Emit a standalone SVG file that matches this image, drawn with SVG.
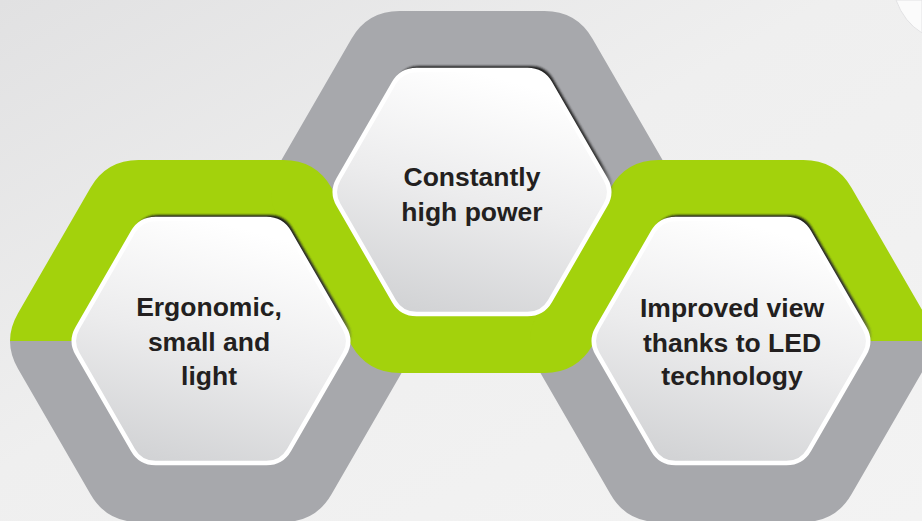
<svg xmlns="http://www.w3.org/2000/svg" width="922" height="521" viewBox="0 0 922 521">
  <defs>
    <linearGradient id="bg" x1="0" y1="0" x2="1" y2="1">
      <stop offset="0" stop-color="#e1e1e2"/>
      <stop offset="0.45" stop-color="#efefef"/>
      <stop offset="1" stop-color="#f3f3f3"/>
    </linearGradient>
    <linearGradient id="innerFill" x1="0.65" y1="0.05" x2="0.35" y2="1">
      <stop offset="0" stop-color="#ffffff"/>
      <stop offset="0.5" stop-color="#ececed"/>
      <stop offset="1" stop-color="#d2d3d5"/>
    </linearGradient>
    <linearGradient id="shadowFill" x1="0" y1="0" x2="0" y2="1">
      <stop offset="0" stop-color="#1e1e1e"/>
      <stop offset="0.4" stop-color="#363636"/>
      <stop offset="0.55" stop-color="#6a6a6a" stop-opacity="0"/>
    </linearGradient>
    <filter id="soft" x="-10%" y="-10%" width="120%" height="120%">
      <feGaussianBlur stdDeviation="1"/>
    </filter>
    <path id="outerTop" d="M-201,0 Q-201,-13.85 -193,-27.7 L-120.5,-153.3 Q-104.5,-181 -72.5,-181 L72.5,-181 Q104.5,-181 120.5,-153.3 L193,-27.7 Q201,-13.85 201,0 Z"/>
    <path id="outerBottom" d="M201,0 Q201,13.85 193,27.7 L120.5,153.3 Q104.5,181 72.5,181 L-72.5,181 Q-104.5,181 -120.5,153.3 L-193,27.7 Q-201,13.85 -201,0 Z"/>
    <path id="inner" d="M133.5,12.95 L78,109.05 Q70.5,122 55.5,122 L-55.5,122 Q-70.5,122 -78,109.05 L-133.5,12.95 Q-141,0 -133.5,-12.95 L-78,-109.05 Q-70.5,-122 -55.5,-122 L55.5,-122 Q70.5,-122 78,-109.05 L133.5,-12.95 Q141,0 133.5,12.95 Z"/>
  </defs>
  <style>
    .gray { fill: #a7a8ac; }
    .green { fill: #a3d20c; }
    .hexShadow { fill: url(#shadowFill); filter: url(#soft); }
    .hexFace { fill: url(#innerFill); stroke: #ffffff; stroke-width: 4.5; }
    .label { font-family: "Liberation Sans", Arial, sans-serif; font-weight: bold; font-size: 26.5px; fill: #231f20; text-anchor: middle; }
  </style>

  <rect x="0" y="0" width="922" height="521" fill="url(#bg)"/>
  <path d="M896,0 Q904,22 922,33 L922,0 Z" fill="#fbfbfb" stroke="#e2e2e4" stroke-width="1"/>

  <g id="bands">
    <use href="#outerBottom" class="gray" transform="translate(211,341)"/>
    <use href="#outerTop" class="gray" transform="translate(472,192)"/>
    <use href="#outerBottom" class="gray" transform="translate(731,341)"/>
    <use href="#outerTop" class="green" transform="translate(211,341)"/>
    <use href="#outerBottom" class="green" transform="translate(472,192)"/>
    <use href="#outerTop" class="green" transform="translate(731,341)"/>
  </g>

  <g id="connectors"/>

  <g id="node-left" transform="translate(211,341)">
    <use href="#inner" class="hexShadow" transform="translate(3,-4)"/>
    <use href="#inner" class="hexFace"/>
    <text class="label" x="-2" y="-25">Ergonomic,</text>
    <text class="label" x="-2" y="10">small and</text>
    <text class="label" x="-2" y="44">light</text>
  </g>

  <g id="node-middle" transform="translate(472,192)">
    <use href="#inner" class="hexShadow" transform="translate(3,-4)"/>
    <use href="#inner" class="hexFace"/>
    <text class="label" x="0" y="-6">Constantly</text>
    <text class="label" x="0" y="28.5">high power</text>
  </g>

  <g id="node-right" transform="translate(731,341)">
    <use href="#inner" class="hexShadow" transform="translate(3,-4)"/>
    <use href="#inner" class="hexFace"/>
    <text class="label" x="1" y="-24.5">Improved view</text>
    <text class="label" x="1" y="10.5">thanks to LED</text>
    <text class="label" x="1" y="44">technology</text>
  </g>
</svg>
